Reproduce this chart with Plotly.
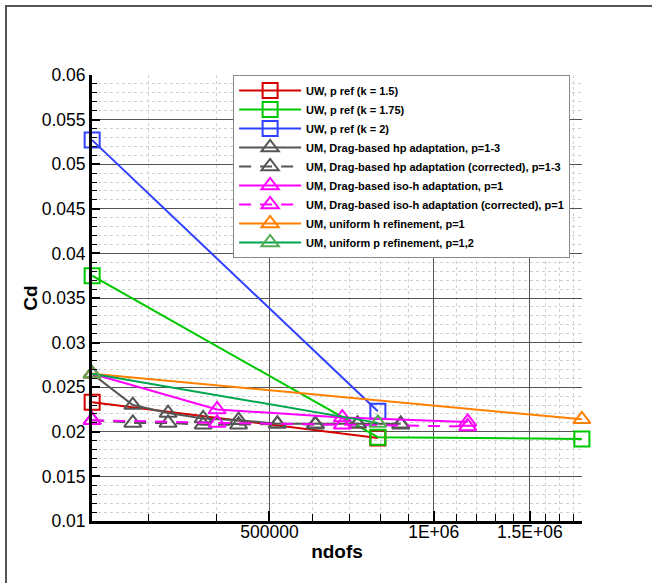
import plotly.graph_objects as go

# ---------------- data ----------------
x_k15 = [236700, 790000]
cd_k15 = [0.0233, 0.0193]

x_k175 = [236700, 790000, 1868000]
cd_k175 = [0.0375, 0.0194, 0.0192]

x_k2 = [236700, 790000]
cd_k2 = [0.0527, 0.0223]

x_hp = [236700, 281000, 326000, 378000, 439000, 517000, 607000, 725000, 870000]
cd_hp = [0.0265, 0.0230, 0.0221, 0.0215, 0.0213, 0.0209, 0.0209, 0.0209, 0.0209]
cd_hp_corr = [0.0213, 0.0210, 0.0210, 0.0208, 0.0208, 0.0209, 0.0208, 0.0209, 0.0208]

x_iso = [236700, 401000, 680000, 1154000]
cd_iso = [0.0265, 0.0225, 0.0216, 0.0211]
cd_iso_corr = [0.0213, 0.0210, 0.0208, 0.0206]

x_unih = [236700, 1868000]
cd_unih = [0.0265, 0.0214]

x_unip = [236700, 790000]
cd_unip = [0.0265, 0.0210]

names = [
    "UW, p ref (k = 1.5)",
    "UW, p ref (k = 1.75)",
    "UW, p ref (k = 2)",
    "UM, Drag-based hp adaptation, p=1-3",
    "UM, Drag-based hp adaptation (corrected), p=1-3",
    "UM, Drag-based iso-h adaptation, p=1",
    "UM, Drag-based iso-h adaptation (corrected), p=1",
    "UM, uniform h refinement, p=1",
    "UM, uniform p refinement, p=1,2",
]

x_tickvals = [500000, 1000000, 1500000]
x_ticktext = ["500000", "1E+06", "1.5E+06"]
x_minor = [300000, 400000, 600000, 700000, 800000, 900000,
           1100000, 1200000, 1300000, 1400000, 1600000, 1700000, 1800000]
y_tickvals = [0.01, 0.015, 0.02, 0.025, 0.03, 0.035, 0.04, 0.045, 0.05, 0.055, 0.06]
y_ticktext = ["0.01", "0.015", "0.02", "0.025", "0.03", "0.035", "0.04", "0.045", "0.05", "0.055", "0.06"]

# ---------------- figure ----------------
fig = go.Figure()

series = [
    (x_k15, cd_k15, names[0], "#d40000", "#d40000", "square-open", "solid"),
    (x_k175, cd_k175, names[1], "#00c800", "#00c800", "square-open", "solid"),
    (x_k2, cd_k2, names[2], "#3040ff", "#3040ff", "square-open", "solid"),
    (x_hp, cd_hp, names[3], "#555555", "#555555", "triangle-up-open", "solid"),
    (x_hp, cd_hp_corr, names[4], "#555555", "#555555", "triangle-up-open", "12px,9px"),
    (x_iso, cd_iso, names[5], "#ff00ff", "#ff00ff", "triangle-up-open", "solid"),
    (x_iso, cd_iso_corr, names[6], "#ff00ff", "#ff00ff", "triangle-up-open", "12px,9px"),
    (x_unih, cd_unih, names[7], "#ff8000", "#ff8000", "triangle-up-open", "solid"),
    (x_unip, cd_unip, names[8], "#00a550", "#55aa55", "triangle-up-open", "solid"),
]

for xs, ys, nm, lc, mc, sym, dash in series:
    fig.add_trace(go.Scatter(
        x=xs, y=ys, name=nm, mode="lines+markers", cliponaxis=False,
        line=dict(color=lc, width=2, dash=dash),
        marker=dict(symbol=sym, size=15, color=mc, line=dict(width=2, color=mc)),
    ))

fig.update_layout(
    width=652, height=583,
    margin=dict(l=92, r=70, t=75, b=62),
    paper_bgcolor="white", plot_bgcolor="white",
    font=dict(family="Liberation Sans, Arial, sans-serif", color="black"),
    showlegend=True,
    legend=dict(
        x=0.288, y=1.0, xanchor="left", yanchor="top",
        bgcolor="white", bordercolor="#888888", borderwidth=1,
        font=dict(size=11, family="Liberation Sans, Arial, sans-serif", weight="bold"),
        tracegroupgap=0, itemwidth=62,
    ),
    xaxis=dict(
        type="log",
        range=[5.3739, 6.2716],
        tickmode="array", tickvals=x_tickvals, ticktext=x_ticktext,
        ticks="inside", ticklen=10, tickwidth=2, tickcolor="black",
        tickfont=dict(size=17.5), ticklabelstandoff=-7,
        showgrid=True, gridcolor="#555555", gridwidth=1,
        showline=True, linecolor="black", linewidth=3,
        zeroline=False,
        minor=dict(tickmode="array", tickvals=x_minor, ticks="inside", ticklen=7,
                   tickwidth=1, tickcolor="black", showgrid=True,
                   gridcolor="#d0d0d0", griddash="dot", gridwidth=1),
        title=dict(text="<b>ndofs</b>", font=dict(size=19), standoff=4),
    ),
    yaxis=dict(
        range=[0.01, 0.06],
        tickmode="array", tickvals=y_tickvals, ticktext=y_ticktext,
        ticks="inside", ticklen=8, tickwidth=2, tickcolor="black",
        tickfont=dict(size=17.5),
        showgrid=True, gridcolor="#555555", gridwidth=1,
        showline=True, linecolor="black", linewidth=3,
        zeroline=False,
        minor=dict(dtick=0.001, ticks="inside", ticklen=5, tickwidth=1,
                   tickcolor="black", showgrid=True, gridcolor="#d0d0d0",
                   griddash="dot", gridwidth=1),
        title=dict(text="<b>Cd</b>", font=dict(size=19), standoff=0),
    ),
)

# outer frame
fig.add_shape(type="rect", xref="paper", yref="paper",
              x0=-0.1755, y0=-0.5, x1=1.5, y1=1.1547,
              line=dict(color="#555555", width=2), layer="below")

fig.write_html("out.html", config={"displayModeBar": False},
               post_script="document.body.style.margin='0px';")
